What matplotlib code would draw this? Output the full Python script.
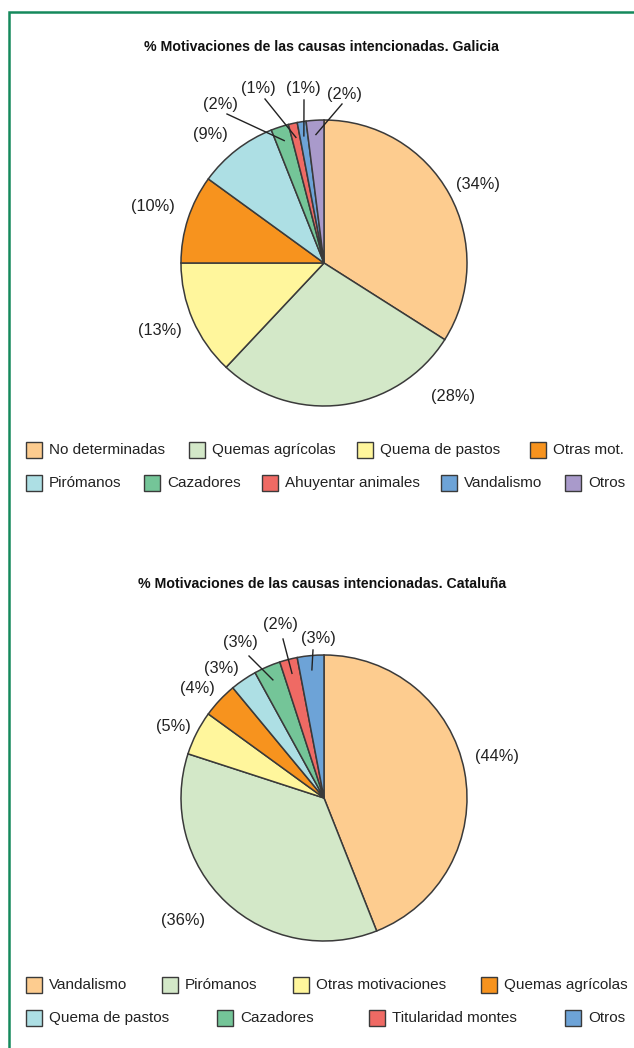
import matplotlib
matplotlib.use('Agg')
import matplotlib.pyplot as plt
import numpy as np
from matplotlib.patches import Rectangle

plt.rcParams['font.family'] = ['Liberation Sans', 'DejaVu Sans']

W, H = 634, 1048

# --- data ---------------------------------------------------------------
galicia_labels = ['No determinadas', 'Quemas agrícolas', 'Quema de pastos', 'Otras mot.',
                  'Pirómanos', 'Cazadores', 'Ahuyentar animales', 'Vandalismo', 'Otros']
galicia_values = [34, 28, 13, 10, 9, 2, 1, 1, 2]
galicia_colors = ['#FDCC8F', '#D3E8C8', '#FFF69C', '#F7931E',
                  '#ADDFE4', '#74C598', '#EF6A64', '#6DA3D7', '#A99ACB']

cataluna_labels = ['Vandalismo', 'Pirómanos', 'Otras motivaciones', 'Quemas agrícolas',
                   'Quema de pastos', 'Cazadores', 'Titularidad montes', 'Otros']
cataluna_values = [44, 36, 5, 4, 3, 3, 2, 3]
cataluna_colors = ['#FDCC8F', '#D3E8C8', '#FFF69C', '#F7931E',
                   '#ADDFE4', '#74C598', '#EF6A64', '#6DA3D7']

# --- layout (pixel coords, y from top) ----------------------------------
galicia_label_pos = [(478, 185), (453, 397), (160, 331), (153, 207), (210, 135),
                     (220, 104), (258, 89), (303, 89), (344, 94)]
galicia_leader = [None, None, None, None, None,
                  (227, 114), (265, 99), (304, 100), (342, 104)]
galicia_legend = [(26, 450), (189, 450), (357, 450), (530, 450),
                  (26, 483), (144, 483), (262, 483), (441, 483), (565, 483)]

cataluna_label_pos = [(497, 757), (183, 920), (173, 727), (197, 689), (221, 668),
                      (240, 643), (280, 625), (318, 638)]
cataluna_leader = [None, None, None, None, None,
                   (249, 656), (283, 639), (313, 650)]
cataluna_legend = [(26, 985), (162, 985), (293, 985), (481, 985),
                   (26, 1018), (217, 1018), (369, 1018), (565, 1018)]

GREEN = '#15895C'
EDGE = '#3a3a3a'


def Y(y):
    return H - y


fig = plt.figure(figsize=(W / 100, H / 100), dpi=100)
ax = fig.add_axes([0, 0, 1, 1])


def draw_block(title, title_y, values, colors, labels, center, radius,
               label_pos, leaders, legend_pos):
    ax.text(322, Y(title_y), title, ha='center', va='center',
            fontsize=10.2, fontweight='bold', color='#111111')
    wedges, _ = ax.pie(values, colors=colors, startangle=90, counterclock=False,
                       center=(center[0], Y(center[1])), radius=radius, frame=True,
                       wedgeprops={'edgecolor': EDGE, 'linewidth': 1.1})
    for w, v, pos, lead in zip(wedges, values, label_pos, leaders):
        ax.text(pos[0], Y(pos[1]), f'({v}%)', ha='center', va='center',
                fontsize=11.8, color='#222222')
        if lead is not None:
            mid = np.deg2rad((w.theta1 + w.theta2) / 2)
            r = radius * 0.9
            x0 = center[0] + r * np.cos(mid)
            y0 = Y(center[1]) + r * np.sin(mid)
            ax.plot([lead[0], x0], [Y(lead[1]), y0], color='#222222', lw=1)
    for lab, col, (x, y) in zip(labels, colors, legend_pos):
        ax.add_patch(Rectangle((x, Y(y) - 8), 16, 16, facecolor=col,
                               edgecolor=EDGE, lw=1))
        ax.text(x + 23, Y(y), lab, ha='left', va='center',
                fontsize=11, color='#222222')


draw_block('% Motivaciones de las causas intencionadas. Galicia', 47,
           galicia_values, galicia_colors, galicia_labels, (324, 263), 143,
           galicia_label_pos, galicia_leader, galicia_legend)
draw_block('% Motivaciones de las causas intencionadas. Cataluña', 584,
           cataluna_values, cataluna_colors, cataluna_labels, (324, 798), 143,
           cataluna_label_pos, cataluna_leader, cataluna_legend)

# green frame
ax.plot([9, 9, W + 5], [0, Y(12), Y(12)], color=GREEN, lw=1.8, solid_joinstyle='miter')

ax.set_xlim(0, W)
ax.set_ylim(0, H)
ax.set_aspect('auto')
ax.axis('off')

fig.savefig('out.png', dpi=100)
